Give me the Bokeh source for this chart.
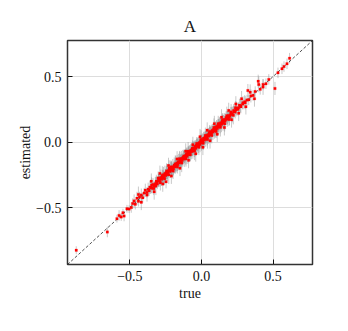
from bokeh.plotting import figure
from bokeh.models import FixedTicker, Range1d, ColumnDataSource
from bokeh.embed import file_html
from bokeh.resources import INLINE

# data: true value, estimated value, error half-length
true_vals = [
    -0.874, -0.657, -0.590, -0.575, -0.560, -0.548, -0.540, -0.520, -0.505, -0.470,
    -0.462, -0.450, -0.440, -0.432, -0.420, -0.410, -0.400, -0.392, -0.380, -0.372,
    -0.365, -0.355, -0.345, -0.338, -0.330, -0.322, -0.315, -0.308, -0.300, -0.295,
    -0.290, -0.283, -0.278, -0.270, -0.265, -0.260, -0.255, -0.250, -0.245, -0.240,
    -0.236, -0.230, -0.225, -0.220, -0.215, -0.210, -0.205, -0.200, -0.195, -0.190,
    -0.185, -0.180, -0.176, -0.170, -0.165, -0.160, -0.155, -0.150, -0.145, -0.140,
    -0.135, -0.130, -0.125, -0.120, -0.115, -0.110, -0.105, -0.100, -0.095, -0.090,
    -0.085, -0.080, -0.075, -0.070, -0.065, -0.060, -0.055, -0.050, -0.045, -0.040,
    -0.035, -0.030, -0.025, -0.020, -0.015, -0.010, -0.005, 0.000, 0.005, 0.010,
    0.015, 0.020, 0.025, 0.030, 0.035, 0.040, 0.045, 0.050, 0.055, 0.060,
    0.065, 0.070, 0.075, 0.080, 0.085, 0.090, 0.095, 0.100, 0.105, 0.110,
    0.115, 0.120, 0.125, 0.130, 0.135, 0.140, 0.145, 0.150, 0.158, 0.165,
    0.172, 0.180, 0.188, 0.195, 0.205, 0.215, 0.225, 0.235, 0.245, 0.255,
    0.265, 0.275, 0.290, 0.305, 0.324, 0.330, 0.345, 0.360, 0.375, 0.396,
    0.410, 0.430, 0.450, 0.470, 0.513, 0.534, 0.562, 0.576, 0.597, 0.615,
    -0.348, -0.333, -0.318, -0.302, -0.287, -0.273, -0.258, -0.243, -0.228, -0.213,
    -0.198, -0.183, -0.168, -0.153, -0.138, -0.123, -0.108, -0.093, -0.078, -0.063,
    -0.048, -0.033, -0.018, -0.003, 0.012, 0.027, 0.042, 0.057, 0.072, 0.087,
    0.102, 0.117, 0.132, 0.147, 0.162, 0.177, 0.192, 0.207, 0.222, 0.237,
    -0.312, -0.298, -0.282, -0.268, -0.252, -0.238, -0.222, -0.208, -0.192, -0.178,
    -0.162, -0.148, -0.132, -0.118, -0.102, -0.088, -0.072, -0.058, -0.042, -0.028,
    -0.012, 0.002, 0.018, 0.032, 0.048, 0.062, 0.078, 0.092, 0.108, 0.122,
    0.138, 0.152, 0.168, 0.182, 0.198, 0.212, 0.228, 0.242, 0.258, 0.272,
    0.288, 0.302, 0.318, -0.480, -0.490, -0.380, -0.247, -0.360,
    -0.44, -0.42, -0.35, -0.33, -0.29, -0.27, -0.23, -0.21, -0.17, -0.15,
    -0.11, -0.09, -0.06, -0.04, -0.01, 0.01, 0.04, 0.06, 0.09, 0.11,
    0.14, 0.16, 0.19, 0.21, 0.24, 0.26, 0.28, 0.31, 0.34, 0.37,
    0.40, 0.43,
]
est_vals = [
    -0.826, -0.687, -0.585, -0.560, -0.572, -0.540, -0.565, -0.510, -0.512, -0.450,
    -0.475, -0.430, -0.452, -0.420, -0.405, -0.425, -0.390, -0.368, -0.385, -0.360,
    -0.372, -0.345, -0.352, -0.325, -0.338, -0.318, -0.300, -0.320, -0.295, -0.280,
    -0.302, -0.270, -0.285, -0.262, -0.250, -0.272, -0.240, -0.255, -0.235, -0.228,
    -0.248, -0.220, -0.200, -0.225, -0.210, -0.195, -0.215, -0.190, -0.205, -0.178,
    -0.188, -0.165, -0.182, -0.160, -0.172, -0.150, -0.158, -0.135, -0.150, -0.128,
    -0.142, -0.120, -0.118, -0.130, -0.105, -0.112, -0.092, -0.108, -0.085, -0.095,
    -0.075, -0.085, -0.065, -0.072, -0.055, -0.068, -0.045, -0.055, -0.035, -0.048,
    -0.025, -0.035, -0.015, -0.025, -0.005, -0.018, 0.008, -0.006, 0.015, 0.005,
    0.028, 0.015, 0.035, 0.024, 0.048, 0.035, 0.055, 0.046, 0.068, 0.055,
    0.075, 0.066, 0.088, 0.076, 0.095, 0.086, 0.108, 0.095, 0.118, 0.104,
    0.125, 0.115, 0.140, 0.126, 0.148, 0.135, 0.160, 0.146, 0.170, 0.160,
    0.185, 0.176, 0.200, 0.190, 0.218, 0.210, 0.240, 0.230, 0.258, 0.250,
    0.280, 0.270, 0.300, 0.300, 0.393, 0.322, 0.352, 0.355, 0.385, 0.464,
    0.402, 0.440, 0.445, 0.478, 0.409, 0.528, 0.559, 0.576, 0.597, 0.640,
    -0.330, -0.355, -0.335, -0.275, -0.310, -0.255, -0.280, -0.222, -0.250, -0.190,
    -0.222, -0.172, -0.190, -0.128, -0.160, -0.108, -0.128, -0.070, -0.098, -0.048,
    -0.068, -0.012, -0.040, 0.020, -0.010, 0.050, 0.020, 0.080, 0.050, 0.110,
    0.080, 0.140, 0.112, 0.170, 0.140, 0.200, 0.172, 0.230, 0.205, 0.262,
    -0.305, -0.292, -0.278, -0.265, -0.248, -0.232, -0.218, -0.202, -0.188, -0.172,
    -0.158, -0.142, -0.128, -0.112, -0.098, -0.082, -0.068, -0.052, -0.038, -0.022,
    -0.008, 0.006, 0.022, 0.036, 0.052, 0.066, 0.082, 0.096, 0.112, 0.126,
    0.142, 0.156, 0.172, 0.186, 0.202, 0.216, 0.232, 0.246, 0.262, 0.276,
    0.290, 0.308, 0.320, -0.470, -0.500, -0.405, -0.304, -0.345,
    -0.40, -0.46, -0.30, -0.38, -0.24, -0.32, -0.18, -0.26, -0.13, -0.20,
    -0.07, -0.14, -0.02, -0.09, 0.04, -0.04, 0.09, 0.01, 0.14, 0.06,
    0.19, 0.11, 0.24, 0.17, 0.29, 0.22, 0.33, 0.27, 0.38, 0.33,
    0.44, 0.42,
]
err_vals = [
    0.03, 0.04, 0.03, 0.04, 0.03, 0.03, 0.04, 0.03, 0.03, 0.05,
    0.04, 0.05, 0.04, 0.04, 0.05, 0.04, 0.04, 0.05, 0.04, 0.05,
    0.04, 0.05, 0.04, 0.05, 0.04, 0.05, 0.05, 0.04, 0.05, 0.05,
    0.04, 0.06, 0.05, 0.05, 0.06, 0.05, 0.06, 0.05, 0.05, 0.06,
    0.05, 0.05, 0.06, 0.05, 0.06, 0.05, 0.05, 0.06, 0.05, 0.06,
    0.05, 0.06, 0.05, 0.06, 0.05, 0.06, 0.05, 0.06, 0.05, 0.06,
    0.05, 0.06, 0.05, 0.06, 0.05, 0.06, 0.05, 0.06, 0.05, 0.06,
    0.05, 0.06, 0.05, 0.06, 0.05, 0.06, 0.05, 0.06, 0.05, 0.06,
    0.05, 0.06, 0.05, 0.06, 0.05, 0.06, 0.05, 0.06, 0.05, 0.06,
    0.05, 0.06, 0.05, 0.06, 0.05, 0.06, 0.05, 0.06, 0.05, 0.06,
    0.05, 0.06, 0.05, 0.06, 0.05, 0.06, 0.05, 0.06, 0.05, 0.06,
    0.05, 0.06, 0.05, 0.06, 0.05, 0.06, 0.05, 0.06, 0.05, 0.06,
    0.05, 0.06, 0.05, 0.06, 0.05, 0.06, 0.05, 0.05, 0.05, 0.05,
    0.05, 0.05, 0.05, 0.05, 0.05, 0.04, 0.05, 0.04, 0.04, 0.05,
    0.04, 0.04, 0.04, 0.04, 0.05, 0.04, 0.04, 0.04, 0.04, 0.04,
    0.06, 0.05, 0.07, 0.05, 0.06, 0.07, 0.05, 0.06, 0.07, 0.05,
    0.06, 0.07, 0.05, 0.06, 0.07, 0.05, 0.06, 0.07, 0.05, 0.06,
    0.07, 0.05, 0.06, 0.07, 0.05, 0.06, 0.07, 0.05, 0.06, 0.07,
    0.05, 0.06, 0.07, 0.05, 0.06, 0.07, 0.05, 0.06, 0.07, 0.05,
    0.04, 0.05, 0.04, 0.05, 0.04, 0.05, 0.04, 0.05, 0.04, 0.05,
    0.04, 0.05, 0.04, 0.05, 0.04, 0.05, 0.04, 0.05, 0.04, 0.05,
    0.04, 0.05, 0.04, 0.05, 0.04, 0.05, 0.04, 0.05, 0.04, 0.05,
    0.04, 0.05, 0.04, 0.05, 0.04, 0.05, 0.04, 0.05, 0.04, 0.05,
    0.04, 0.05, 0.04, 0.04, 0.04, 0.05, 0.05, 0.05,
    0.06, 0.06, 0.06, 0.06, 0.06, 0.06, 0.06, 0.06, 0.06, 0.06,
    0.06, 0.06, 0.06, 0.06, 0.06, 0.06, 0.06, 0.06, 0.06, 0.06,
    0.06, 0.06, 0.06, 0.06, 0.06, 0.06, 0.06, 0.06, 0.06, 0.06,
    0.06, 0.06,
]

axis_min = -0.935
axis_max = 0.775
tick_vals = [-0.5, 0.0, 0.5]
tick_labels = ["\u22120.5", "0.0", "0.5"]

FONT = "Liberation Serif"

lo = [e - d for e, d in zip(est_vals, err_vals)]
hi = [e + d for e, d in zip(est_vals, err_vals)]
src = ColumnDataSource(dict(x=true_vals, y=est_vals, lo=lo, hi=hi))

p = figure(width=330, height=314, output_backend="svg", toolbar_location=None,
           x_range=Range1d(axis_min, axis_max), y_range=Range1d(axis_min, axis_max),
           min_border_left=67, min_border_right=18, min_border_top=40, min_border_bottom=50,
           title="A")

p.title.align = "center"
p.title.text_font = FONT
p.title.text_font_size = "17px"
p.title.text_font_style = "normal"
p.title.text_color = "#111111"

p.outline_line_color = "#333333"
p.outline_line_width = 1.5
p.background_fill_color = "white"
p.border_fill_color = "white"

for ax in (p.xaxis[0], p.yaxis[0]):
    ax.ticker = FixedTicker(ticks=tick_vals)
    ax.major_label_overrides = {v: l for v, l in zip(tick_vals, tick_labels)}
    ax.axis_line_color = None
    ax.major_tick_in = 5
    ax.major_tick_out = 0
    ax.major_tick_line_color = "#111111"
    ax.minor_tick_line_color = None
    ax.major_label_text_font = FONT
    ax.major_label_text_font_size = "14px"
    ax.major_label_text_color = "#111111"
    ax.axis_label_text_font = FONT
    ax.axis_label_text_font_size = "14px"
    ax.axis_label_text_font_style = "normal"
    ax.axis_label_text_color = "#111111"

p.xaxis.axis_label = "true"
p.yaxis.axis_label = "estimated"
p.xaxis.major_label_standoff = 6
p.yaxis.major_label_standoff = 6
p.xaxis.axis_label_standoff = 2
p.yaxis.axis_label_standoff = 0
p.yaxis.major_label_orientation = "horizontal"

p.grid.grid_line_color = "#dddddd"
p.grid.grid_line_width = 1

p.segment(x0="x", y0="lo", x1="x", y1="hi", source=src,
          line_color="#888888", line_alpha=0.45, line_width=1)

p.line([axis_min, axis_max], [axis_min, axis_max], line_color="#222222",
       line_width=0.8, line_dash="3 2")

p.scatter(x="x", y="y", source=src, size=2.5, marker="square",
          fill_color="red", line_color="red", line_width=0.2)

open("out.html", "w").write(file_html(p, INLINE))
